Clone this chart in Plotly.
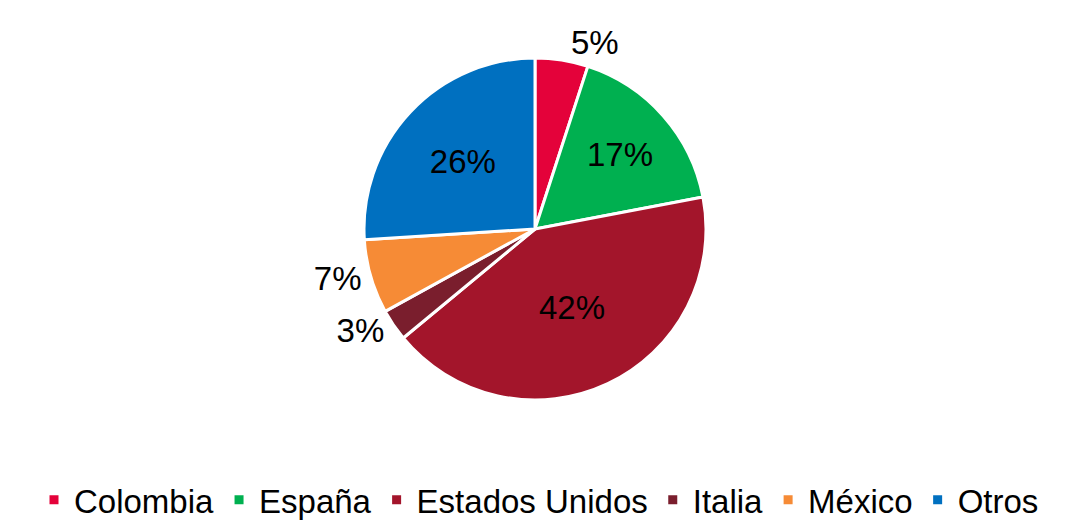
import plotly.graph_objects as go

categories = ["Colombia", "España", "Estados Unidos", "Italia", "México", "Otros"]
values = [5, 17, 42, 3, 7, 26]
colors = ["#E4023A", "#00B050", "#A3152B", "#7A1E2D", "#F68B36", "#0070C0"]
text_positions = ["outside", "inside", "inside", "outside", "outside", "inside"]

W, H = 1072, 526
off = 8  # page body margin
cx, cy, r = 535 - off, 229 - off, 171

fig = go.Figure(go.Pie(
    labels=categories,
    values=values,
    sort=False,
    direction="clockwise",
    rotation=0,
    marker=dict(colors=colors, line=dict(color="white", width=3)),
    textinfo="percent",
    texttemplate="%{percent:.0%}",
    textposition=text_positions,
    insidetextfont=dict(color="black", size=33, family="Liberation Sans, Arial, sans-serif"),
    outsidetextfont=dict(color="black", size=33, family="Liberation Sans, Arial, sans-serif"),
    domain=dict(x=[(cx - r) / W, (cx + r) / W], y=[(H - cy - r) / H, (H - cy + r) / H]),
    hoverinfo="label+percent",
))

fig.update_layout(
    width=W, height=H,
    margin=dict(l=0, r=0, t=0, b=0),
    paper_bgcolor="white",
    font=dict(family="Liberation Sans, Arial, sans-serif", color="black", size=33),
    showlegend=True,
    legend=dict(
        orientation="h",
        x=531 / W, xanchor="center",
        y=0.012, yanchor="bottom",
        font=dict(size=33, color="black"),
        itemclick=False,
    ),
)

fig.write_html("out.html")
